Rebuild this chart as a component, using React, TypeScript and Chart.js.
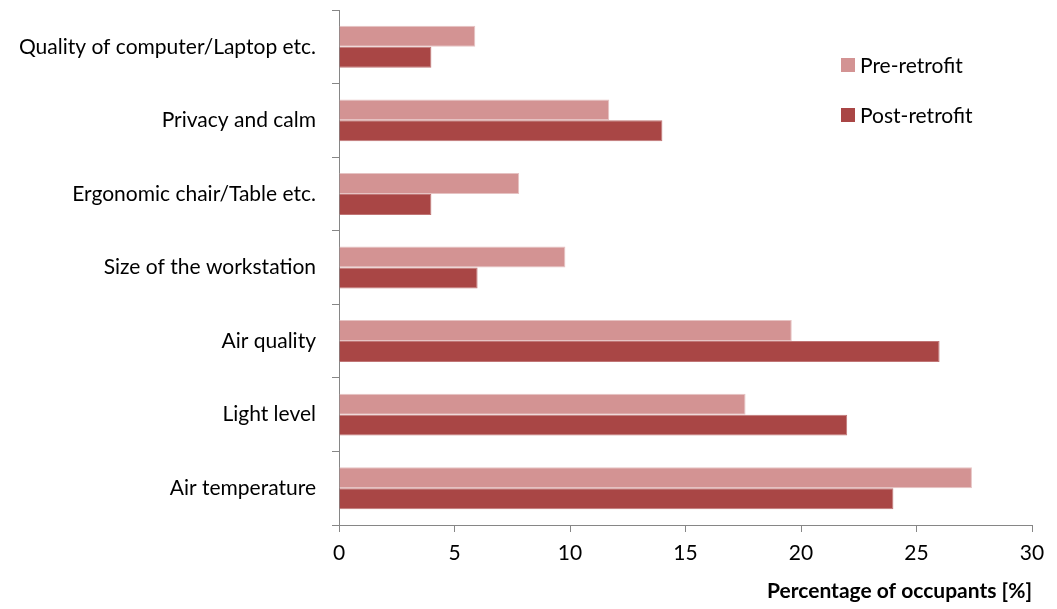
import React, { useEffect, useRef } from "react";
import { Chart, registerables } from "chart.js";

Chart.register(...registerables);

const categories = [
  "Quality of computer/Laptop etc.",
  "Privacy and calm",
  "Ergonomic chair/Table etc.",
  "Size of the workstation",
  "Air quality",
  "Light level",
  "Air temperature",
];
const preRetrofit = [5.9, 11.7, 7.8, 9.8, 19.6, 17.6, 27.4];
const postRetrofit = [4.0, 14.0, 4.0, 6.0, 26.0, 22.0, 24.0];
const seriesLabels = ["Pre-retrofit", "Post-retrofit"];
const xTitle = "Percentage of occupants [%]";

const FONT = "Lato, 'Open Sans', sans-serif";
const AXIS = "#868686";
const FS = 21;

const legendPlugin = {
  id: "insideLegend",
  afterDraw(chart: any) {
    const ctx = chart.ctx;
    const area = chart.chartArea;
    ctx.save();
    ctx.font = `${FS}px ${FONT}`;
    ctx.textBaseline = "middle";
    chart.data.datasets.forEach((ds: any, i: number) => {
      const x = area.right - 191;
      const y = area.top + 55 + i * 50;
      ctx.fillStyle = ds.backgroundColor;
      ctx.fillRect(x, y - 7, 14, 14);
      ctx.fillStyle = "#000";
      ctx.fillText(ds.label, x + 19, y + 1);
    });
    ctx.restore();
  },
};

export default function App() {
  const ref = useRef<HTMLCanvasElement>(null);
  useEffect(() => {
    document.body.style.margin = "0";
    const chart = new Chart(ref.current!, {
      type: "bar",
      data: {
        labels: categories,
        datasets: [
          {
            label: seriesLabels[0],
            data: preRetrofit,
            backgroundColor: "#D39393",
            borderColor: "#E6C3C3",
            borderWidth: 1,
          },
          {
            label: seriesLabels[1],
            data: postRetrofit,
            backgroundColor: "#A94645",
            borderColor: "#C07575",
            borderWidth: 1,
          },
        ],
      },
      options: {
        indexAxis: "y",
        animation: false,
        responsive: false,
        layout: { padding: { top: 10, right: 25, left: 0, bottom: 0 } },
        datasets: { bar: { barPercentage: 1, categoryPercentage: 0.57 } },
        plugins: {
          legend: { display: false },
          tooltip: { enabled: false },
        },
        scales: {
          x: {
            min: 0,
            max: 30,
            ticks: { stepSize: 5, color: "#000", font: { family: FONT, size: FS }, padding: 9 },
            grid: { drawOnChartArea: false, drawTicks: true, tickLength: 7, color: AXIS },
            border: { color: AXIS, width: 1 },
            title: {
              display: true,
              text: xTitle,
              align: "end",
              color: "#000",
              font: { family: FONT, size: FS, weight: "bold" },
              padding: { top: 10, bottom: 5 },
            },
            afterFit(scale: any) {
              scale.height = 84;
            },
          },
          y: {
            ticks: { color: "#000", font: { family: FONT, size: FS }, padding: 16 },
            grid: { drawOnChartArea: false, drawTicks: true, tickLength: 7, color: AXIS, offset: true },
            border: { color: AXIS, width: 1 },
            afterFit(scale: any) {
              scale.width = 339;
              scale.paddingTop = 0;
              scale.paddingBottom = 0;
            },
          },
        },
      },
      plugins: [legendPlugin],
    } as any);
    return () => chart.destroy();
  }, []);
  return (
    <div style={{ width: 1057, height: 609 }}>
      <canvas ref={ref} width={1057} height={609} />
    </div>
  );
}
